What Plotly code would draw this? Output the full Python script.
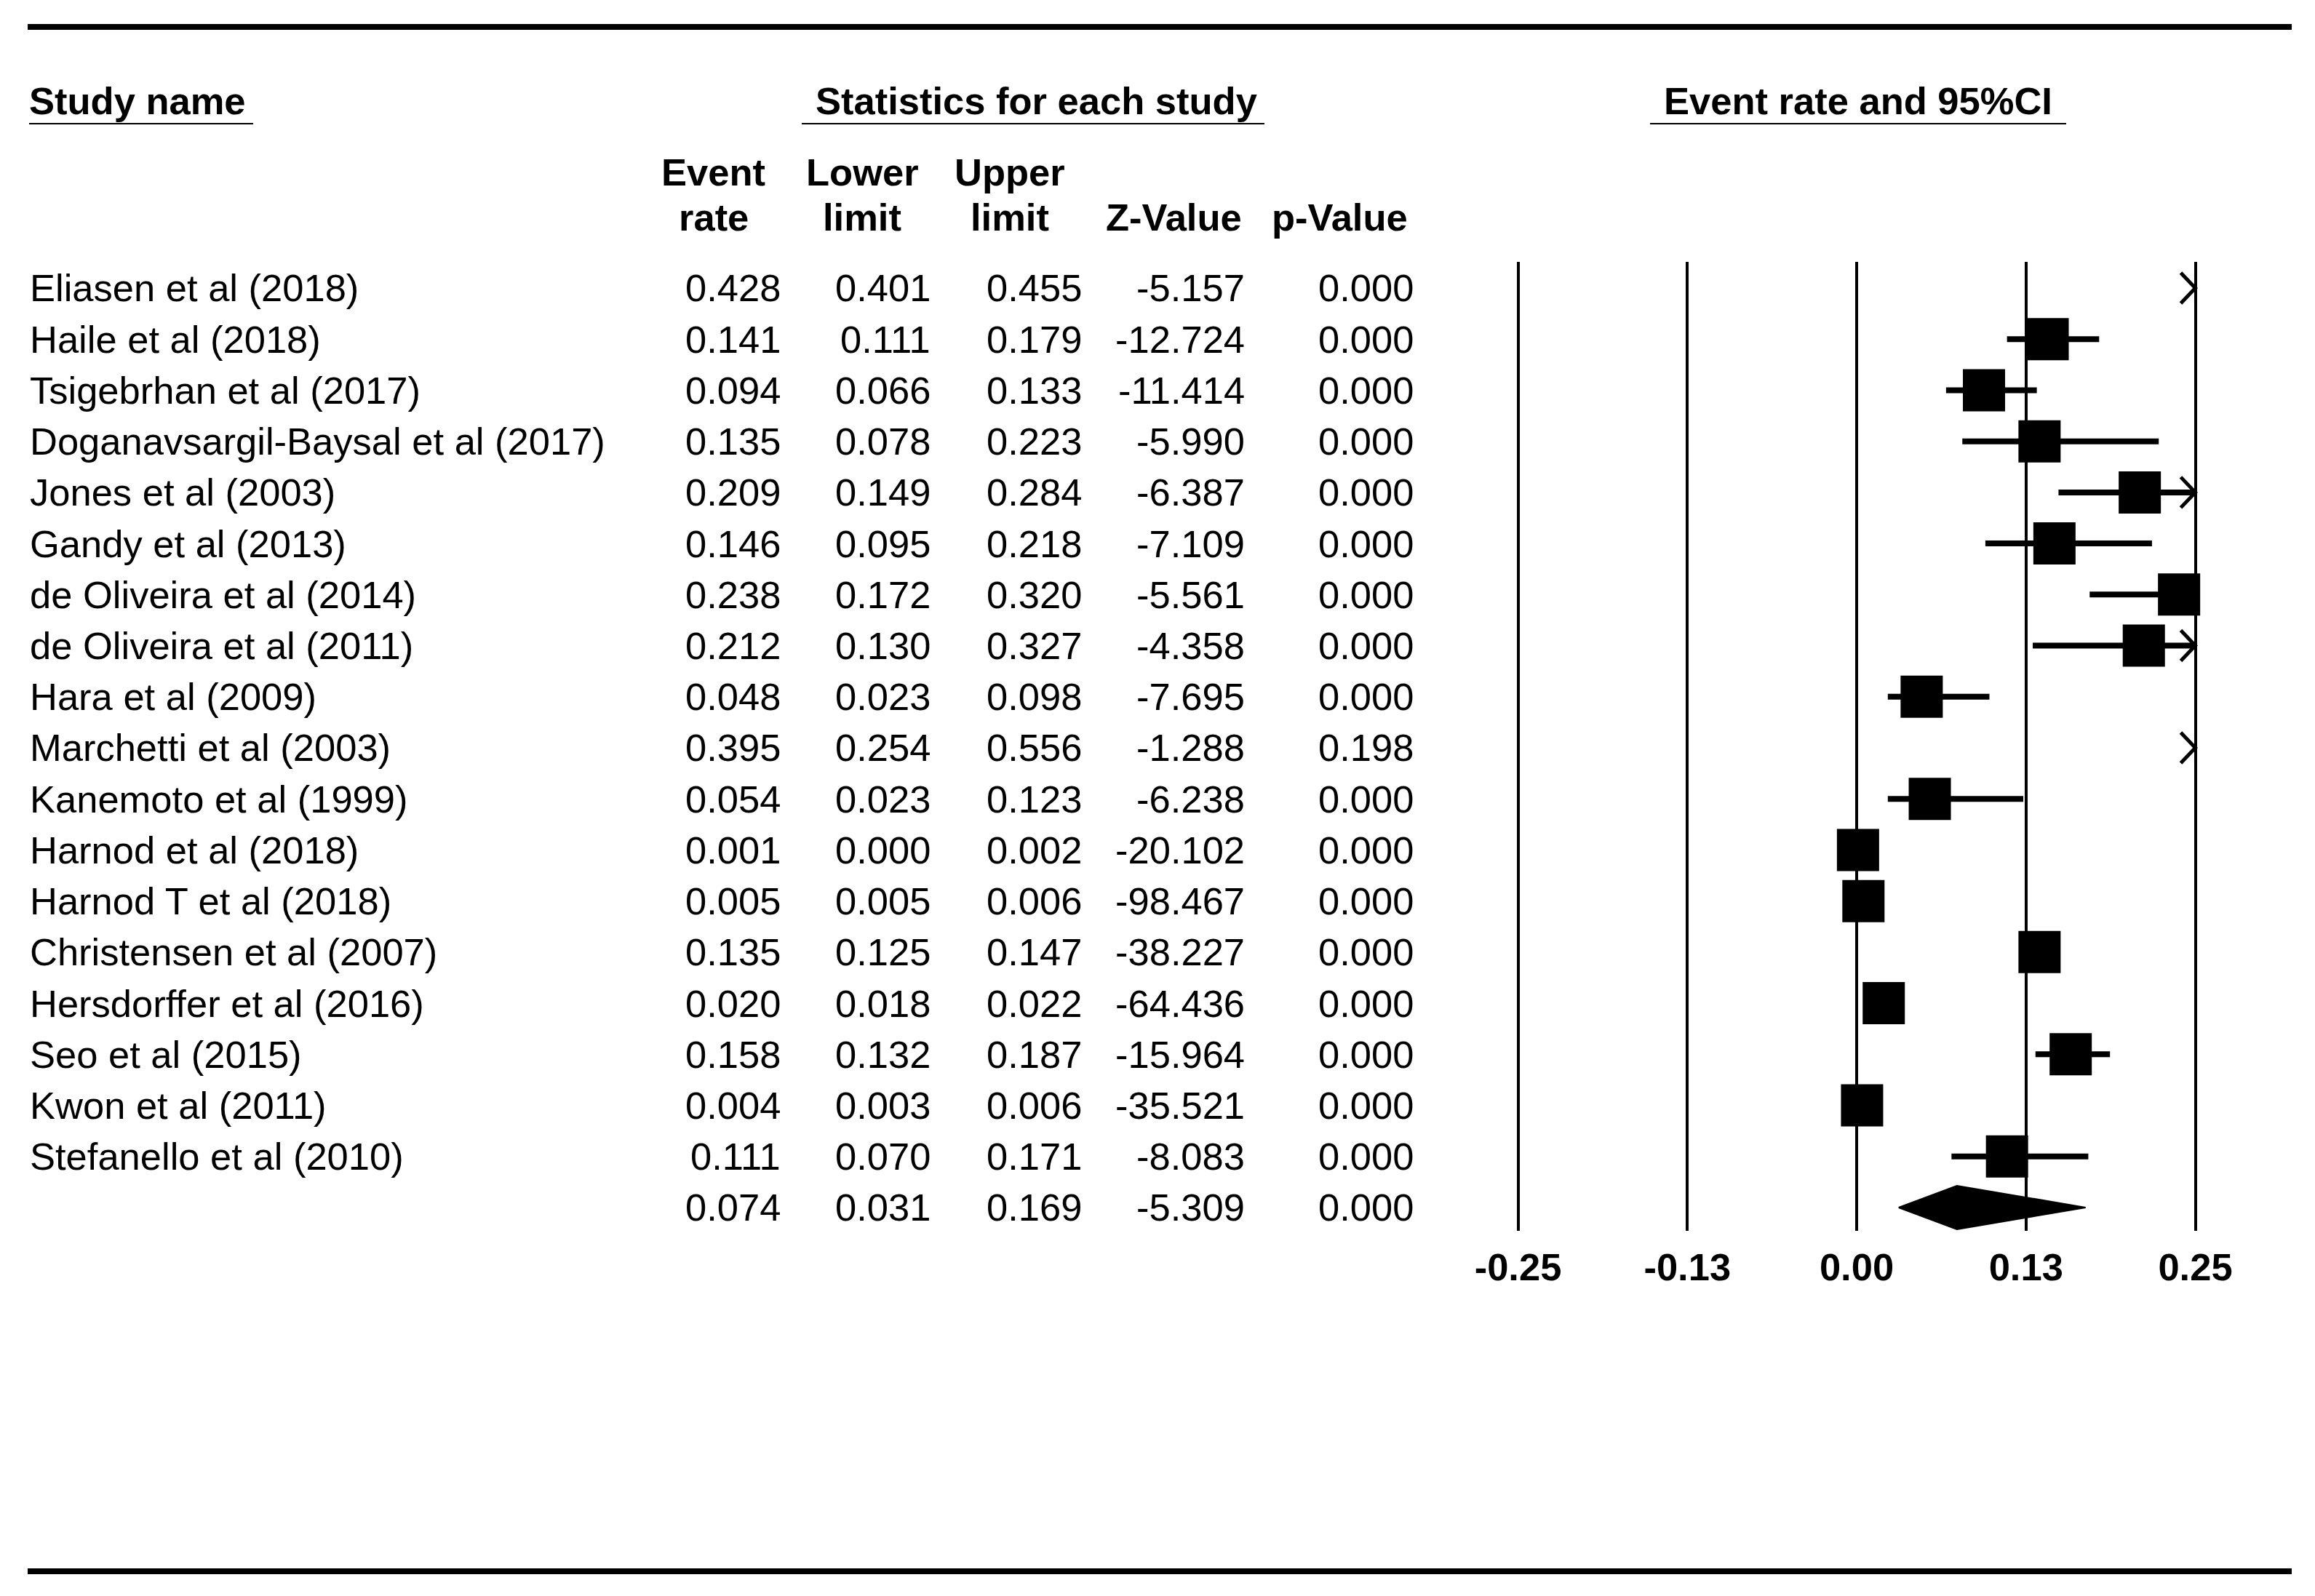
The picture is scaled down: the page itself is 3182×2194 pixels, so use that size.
import plotly.graph_objects as go

# ---------------- data ----------------
studies = [
    "Eliasen et al (2018)", "Haile et al (2018)", "Tsigebrhan et al (2017)",
    "Doganavsargil-Baysal et al (2017)", "Jones et al (2003)", "Gandy et al (2013)",
    "de Oliveira et al (2014)", "de Oliveira et al (2011)", "Hara et al (2009)",
    "Marchetti et al (2003)", "Kanemoto et al (1999)", "Harnod et al (2018)",
    "Harnod T et al (2018)", "Christensen et al (2007)", "Hersdorffer et al (2016)",
    "Seo et al (2015)", "Kwon et al (2011)", "Stefanello et al (2010)",
]
event_rate = [0.428, 0.141, 0.094, 0.135, 0.209, 0.146, 0.238, 0.212, 0.048,
              0.395, 0.054, 0.001, 0.005, 0.135, 0.020, 0.158, 0.004, 0.111]
lower_limit = [0.401, 0.111, 0.066, 0.078, 0.149, 0.095, 0.172, 0.130, 0.023,
               0.254, 0.023, 0.000, 0.005, 0.125, 0.018, 0.132, 0.003, 0.070]
upper_limit = [0.455, 0.179, 0.133, 0.223, 0.284, 0.218, 0.320, 0.327, 0.098,
               0.556, 0.123, 0.002, 0.006, 0.147, 0.022, 0.187, 0.006, 0.171]
z_value = [-5.157, -12.724, -11.414, -5.990, -6.387, -7.109, -5.561, -4.358, -7.695,
           -1.288, -6.238, -20.102, -98.467, -38.227, -64.436, -15.964, -35.521, -8.083]
p_value = [0.000, 0.000, 0.000, 0.000, 0.000, 0.000, 0.000, 0.000, 0.000,
           0.198, 0.000, 0.000, 0.000, 0.000, 0.000, 0.000, 0.000, 0.000]

summary_event_rate = 0.074
summary_lower = 0.031
summary_upper = 0.169
summary_z = -5.309
summary_p = 0.000

tick_vals = [-0.25, -0.125, 0.0, 0.125, 0.25]
tick_text = ["-0.25", "-0.13", "0.00", "0.13", "0.25"]

col_headers_top = ["Event", "Lower", "Upper", "", ""]
col_headers_bottom = ["rate", "limit", "limit", "Z-Value", "p-Value"]

# ---------------- geometry (pixels) ----------------
W, H = 3182, 2194
FONT = "Liberation Sans, Arial, sans-serif"
FS = 52.5
ROW0_PX, ROW_PX = 396, 70.22
X_ZERO_PX, X_UNIT_PX = 2552, 1862
PLOT_TOP_PX, PLOT_BOT_PX = 360, 1692
XR = 0.3
col_right_px = [1075, 1281, 1489, 1713, 1945]
col_center_px = [981, 1185, 1388, 1613, 1841]
name_left_px = 39

def px_x(p):
    return p / W

def px_y(p):
    return 1 - p / H

n = len(studies)
rows = list(range(n))
sum_row = n
xmax = tick_vals[-1]

# ---------------- traces ----------------
ci_x, ci_y = [], []
arr_x, arr_y = [], []
sq_x, sq_y = [], []
ax_len = 20 / X_UNIT_PX
ay_len = 21 / ROW_PX
for r, est, lo, hi in zip(rows, event_rate, lower_limit, upper_limit):
    if lo < xmax:
        ci_x += [lo, min(hi, xmax), None]
        ci_y += [r, r, None]
    if hi > xmax:
        arr_x += [xmax - ax_len, xmax, xmax - ax_len, None]
        arr_y += [r - ay_len, r, r + ay_len, None]
    if est <= xmax:
        sq_x.append(est)
        sq_y.append(r)

fig = go.Figure()
fig.add_trace(go.Scatter(x=ci_x, y=ci_y, mode="lines",
                         line=dict(color="black", width=8), hoverinfo="skip"))
fig.add_trace(go.Scatter(x=arr_x, y=arr_y, mode="lines",
                         line=dict(color="black", width=5), hoverinfo="skip"))
fig.add_trace(go.Scatter(x=sq_x, y=sq_y, mode="markers", cliponaxis=False,
                         marker=dict(symbol="square", size=58, color="black",
                                     line=dict(width=0))))
dh = 30 / ROW_PX
fig.add_trace(go.Scatter(
    x=[summary_lower, summary_event_rate, summary_upper, summary_event_rate, summary_lower],
    y=[sum_row, sum_row - dh, sum_row, sum_row + dh, sum_row],
    mode="lines", fill="toself", fillcolor="black",
    line=dict(color="black", width=2), hoverinfo="skip"))

# ---------------- text ----------------
ann = []
def text(x, y, s, xanchor="left", yref="y", bold=False):
    ann.append(dict(x=x, y=y, xref="paper", yref=yref, text=s, showarrow=False,
                    xanchor=xanchor, yanchor="middle",
                    font=dict(family=FONT, size=FS, color="black",
                              weight="bold" if bold else "normal")))

for r, name in zip(rows, studies):
    text(px_x(name_left_px), r, name)
cols = [event_rate, lower_limit, upper_limit, z_value, p_value]
for ci, col in enumerate(cols):
    for r, v in zip(rows, col):
        text(px_x(col_right_px[ci]), r, f"{v:.3f}", xanchor="right")
summary_vals = [summary_event_rate, summary_lower, summary_upper, summary_z, summary_p]
for ci, v in enumerate(summary_vals):
    text(px_x(col_right_px[ci]), sum_row, f"{v:.3f}", xanchor="right")

# headers
text(px_x(38), px_y(138), "Study name", yref="paper", bold=True)
text(px_x(1424), px_y(138), "Statistics for each study", xanchor="center", yref="paper", bold=True)
text(px_x(2554), px_y(138), "Event rate and 95%CI", xanchor="center", yref="paper", bold=True)
for ci in range(5):
    if col_headers_top[ci]:
        text(px_x(col_center_px[ci]), px_y(236), col_headers_top[ci], xanchor="center",
             yref="paper", bold=True)
    text(px_x(col_center_px[ci]), px_y(299), col_headers_bottom[ci], xanchor="center",
         yref="paper", bold=True)

# ---------------- rules ----------------
shapes = [
    dict(type="line", xref="paper", yref="paper", x0=px_x(38), x1=px_x(3150),
         y0=px_y(37), y1=px_y(37), line=dict(color="black", width=8)),
    dict(type="line", xref="paper", yref="paper", x0=px_x(38), x1=px_x(3150),
         y0=px_y(2160), y1=px_y(2160), line=dict(color="black", width=8)),
    dict(type="line", xref="paper", yref="paper", x0=px_x(40), x1=px_x(348),
         y0=px_y(170), y1=px_y(170), line=dict(color="black", width=2)),
    dict(type="line", xref="paper", yref="paper", x0=px_x(1102), x1=px_x(1738),
         y0=px_y(170), y1=px_y(170), line=dict(color="black", width=2)),
    dict(type="line", xref="paper", yref="paper", x0=px_x(2268), x1=px_x(2840),
         y0=px_y(170), y1=px_y(170), line=dict(color="black", width=2)),
]

fig.update_layout(
    width=W, height=H, autosize=False,
    margin=dict(l=0, r=0, t=0, b=0, pad=0),
    paper_bgcolor="white", plot_bgcolor="white",
    showlegend=False,
    annotations=ann, shapes=shapes,
    xaxis=dict(
        domain=[px_x(X_ZERO_PX - XR * X_UNIT_PX), px_x(X_ZERO_PX + XR * X_UNIT_PX)],
        range=[-XR, XR], tickvals=tick_vals, ticktext=tick_text,
        showgrid=True, gridcolor="black", gridwidth=4, zeroline=False,
        showline=False, ticks="", ticklabelstandoff=14,
        tickfont=dict(family=FONT, size=FS, color="black", weight="bold"),
        fixedrange=True,
    ),
    yaxis=dict(
        domain=[1 - PLOT_BOT_PX / H, 1 - PLOT_TOP_PX / H],
        range=[(PLOT_BOT_PX - ROW0_PX) / ROW_PX, (PLOT_TOP_PX - ROW0_PX) / ROW_PX],
        showgrid=False, zeroline=False, showline=False, showticklabels=False,
        ticks="", fixedrange=True,
    ),
)

fig.write_html("out.html", config={"displayModeBar": False},
               post_script="document.body.style.margin='0';")
